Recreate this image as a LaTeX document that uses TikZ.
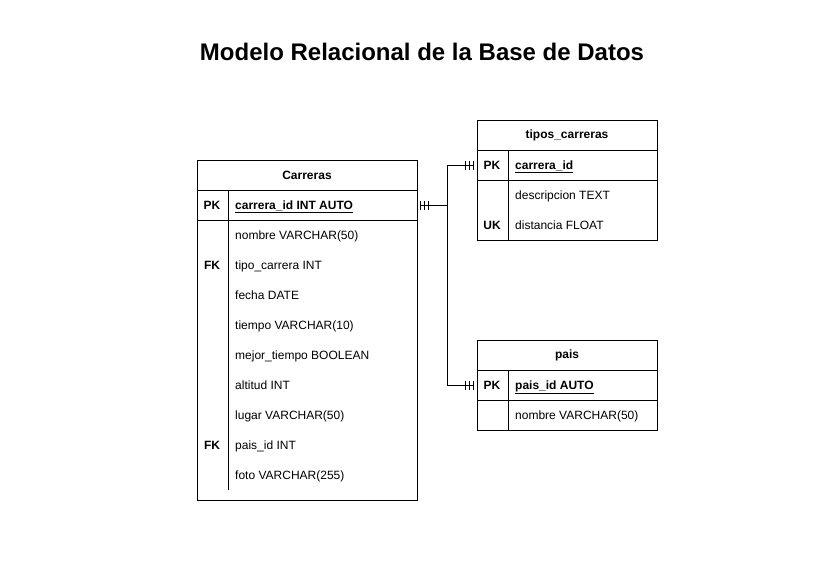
\documentclass[tikz,border=0pt]{standalone}
\usepackage{fontspec}
\setmainfont{Liberation Sans}
\usetikzlibrary{arrows.meta,positioning}
\tikzset{
  tbl/.style={draw,line width=0.9pt,outer sep=0pt,inner sep=0pt,fill=white,minimum height=30pt},
  hdr/.style={tbl,font=\fontsize{12}{14}\selectfont\bfseries},
  key/.style={inner sep=0pt,text height=9.6pt,text depth=1.6pt,font=\fontsize{12}{14}\selectfont\bfseries},
  fld/.style={anchor=west,inner sep=0pt,text height=9.6pt,text depth=1.6pt,font=\fontsize{12}{14}\selectfont},
  pkfld/.style={fld,font=\fontsize{12}{14}\selectfont\bfseries},
  divider/.style={line width=0.9pt},
  title/.style={font=\fontsize{24}{28}\selectfont\bfseries},
  onlyone/.style={line width=0.9pt,
    {Bar[width=9pt,sep=3pt]Bar[width=9pt,sep=3pt]Bar[width=9pt,sep=3pt]}-{Bar[width=9pt,sep=3pt]Bar[width=9pt,sep=3pt]Bar[width=9pt,sep=3pt]}},
  link/.style={line width=0.9pt,-{Bar[width=9pt,sep=3pt]Bar[width=9pt,sep=3pt]Bar[width=9pt,sep=3pt]}},
}

\begin{document}
\begin{tikzpicture}[x=1pt,y=-1pt]
\fill[white] (0,0) rectangle (826,583);
\useasboundingbox (0,0) rectangle (826,583);

\node[title] (ttl) at (422,52) {Modelo Relacional de la Base de Datos};

% Carreras
\node[hdr,minimum width=220pt,anchor=north west] (carH) at (197,160) {Carreras};
\node[tbl,minimum width=220pt,below=0pt of carH] (carPK) {};
\node[tbl,minimum width=220pt,minimum height=280pt,below=0pt of carPK] (carB) {};
\draw[divider] ([xshift=31pt]carPK.north west) -- ([xshift=31pt,yshift=10pt]carB.south west);
\node[key] (carK) at ([xshift=15pt]carPK.west) {PK};
\node[pkfld] (carId) at ([xshift=38pt]carPK.west) {\underline{carrera\_id INT AUTO}};
\foreach \k/\f [count=\i] in {{}/nombre VARCHAR(50), FK/tipo\_carrera INT, {}/fecha DATE,
    {}/tiempo VARCHAR(10), {}/mejor\_tiempo BOOLEAN, {}/altitud INT,
    {}/lugar VARCHAR(50), FK/pais\_id INT, {}/foto VARCHAR(255)} {
  \node[key] (carK\i) at (212,{205+30*\i}) {\k};
  \node[fld] (carF\i) at (235,{205+30*\i}) {\f};
}

% tipos_carreras
\node[hdr,minimum width=180pt,anchor=north west] (tipH) at (477,120) {tipos\_carreras};
\node[tbl,minimum width=180pt,below=0pt of tipH] (tipPK) {};
\node[tbl,minimum width=180pt,minimum height=60pt,below=0pt of tipPK] (tipB) {};
\draw[divider] ([xshift=31pt]tipPK.north west) -- ([xshift=31pt]tipB.south west);
\node[key] (tipK) at ([xshift=15pt]tipPK.west) {PK};
\node[pkfld] (tipId) at ([xshift=38pt]tipPK.west) {\underline{carrera\_id}};
\node[fld] (tipF1) at (515,195) {descripcion TEXT};
\node[key] (tipK2) at (492,225) {UK};
\node[fld] (tipF2) at (515,225) {distancia FLOAT};

% pais
\node[hdr,minimum width=180pt,anchor=north west] (paisH) at (477,340) {pais};
\node[tbl,minimum width=180pt,below=0pt of paisH] (paisPK) {};
\node[tbl,minimum width=180pt,below=0pt of paisPK] (paisB) {};
\draw[divider] ([xshift=31pt]paisPK.north west) -- ([xshift=31pt]paisB.south west);
\node[key] (paisK) at ([xshift=15pt]paisPK.west) {PK};
\node[pkfld] (paisId) at ([xshift=38pt]paisPK.west) {\underline{pais\_id AUTO}};
\node[fld] (paisF1) at (515,415) {nombre VARCHAR(50)};

% relaciones
\coordinate (jn) at ([xshift=30pt]carPK.east);
\draw[onlyone] (carPK.east) -- (jn) |- (tipPK.west);
\draw[link] (jn) |- (paisPK.west);
\end{tikzpicture}
\end{document}
